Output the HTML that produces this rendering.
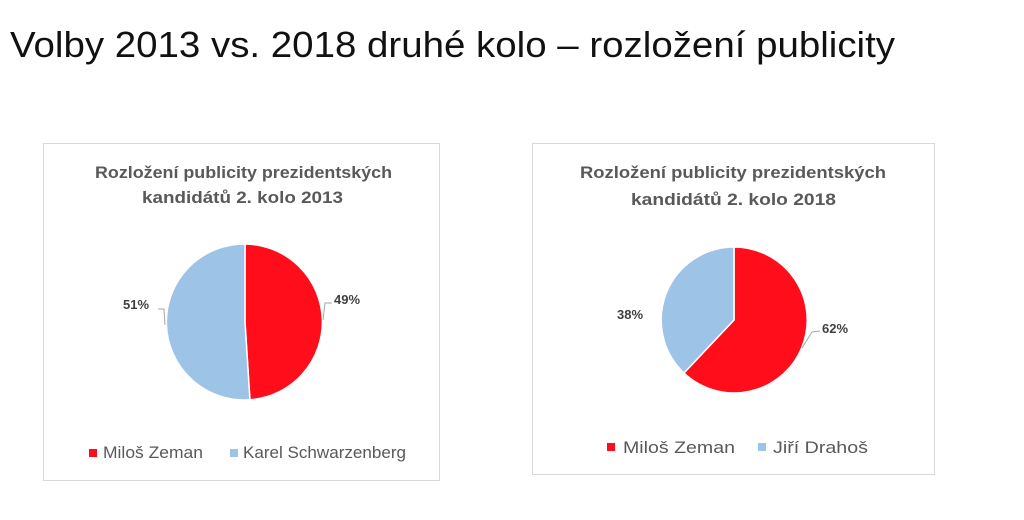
<!DOCTYPE html>
<html><head><meta charset="utf-8"><style>
body{margin:0;width:1024px;height:520px;background:#fff;overflow:hidden;font-family:"Liberation Sans",sans-serif}
</style></head><body>
<svg width="1024" height="520" style="position:absolute;left:0;top:0" font-family="Liberation Sans, sans-serif">
<text x="10" y="57" font-size="36" fill="#111" textLength="885" lengthAdjust="spacingAndGlyphs">Volby 2013 vs. 2018 druhé kolo – rozložení publicity</text>
<rect x="43.5" y="143.5" width="396" height="337" fill="#fff" stroke="#d9d9d9"/>
<text x="95" y="178" font-size="17" font-weight="bold" fill="#595959" textLength="297" lengthAdjust="spacingAndGlyphs">Rozložení publicity prezidentských</text>
<text x="142" y="203" font-size="17" font-weight="bold" fill="#595959" textLength="201" lengthAdjust="spacingAndGlyphs">kandidátů 2. kolo 2013</text>
<path d="M245,322 L245,244 A78,78 0 0 1 249.9,399.8 Z" fill="#ff0d1b" stroke="#fff" stroke-width="1.5"/>
<path d="M245,322 L249.9,399.8 A78,78 0 1 1 245,244 Z" fill="#9dc3e6" stroke="#fff" stroke-width="1.5"/>
<polyline points="323,320 325,303 332,303" fill="none" stroke="#a6a6a6"/>
<polyline points="165,325 164,309 158,309" fill="none" stroke="#a6a6a6"/>
<text x="334" y="304" font-size="13" font-weight="bold" fill="#404040">49%</text>
<text x="123" y="309" font-size="13" font-weight="bold" fill="#404040">51%</text>
<rect x="89" y="449" width="8" height="8" fill="#ff0d1b"/>
<text x="103" y="458" font-size="16.5" fill="#595959" textLength="100" lengthAdjust="spacingAndGlyphs">Miloš Zeman</text>
<rect x="230" y="449" width="8" height="8" fill="#9dc3e6"/>
<text x="243" y="458" font-size="16.5" fill="#595959" textLength="163" lengthAdjust="spacingAndGlyphs">Karel Schwarzenberg</text>

<rect x="532.5" y="143.5" width="402" height="331" fill="#fff" stroke="#d9d9d9"/>
<text x="580" y="178" font-size="17" font-weight="bold" fill="#595959" textLength="306" lengthAdjust="spacingAndGlyphs">Rozložení publicity prezidentských</text>
<text x="631" y="205" font-size="17" font-weight="bold" fill="#595959" textLength="205" lengthAdjust="spacingAndGlyphs">kandidátů 2. kolo 2018</text>
<path d="M734,320 L734,247 A73,73 0 1 1 684,373 Z" fill="#ff0d1b" stroke="#fff" stroke-width="1.5"/>
<path d="M734,320 L684,373 A73,73 0 0 1 734,247 Z" fill="#9dc3e6" stroke="#fff" stroke-width="1.5"/>
<polyline points="802,348 812,332 820,331" fill="none" stroke="#a6a6a6"/>
<text x="822" y="333" font-size="13" font-weight="bold" fill="#404040">62%</text>
<text x="617" y="319" font-size="13" font-weight="bold" fill="#404040">38%</text>
<rect x="607" y="443" width="8" height="8" fill="#ff0d1b"/>
<text x="623" y="453" font-size="16.5" fill="#595959" textLength="112" lengthAdjust="spacingAndGlyphs">Miloš Zeman</text>
<rect x="758" y="443" width="8" height="8" fill="#9dc3e6"/>
<text x="773" y="453" font-size="16.5" fill="#595959" textLength="95" lengthAdjust="spacingAndGlyphs">Jiří Drahoš</text>
</svg>
</body></html>
